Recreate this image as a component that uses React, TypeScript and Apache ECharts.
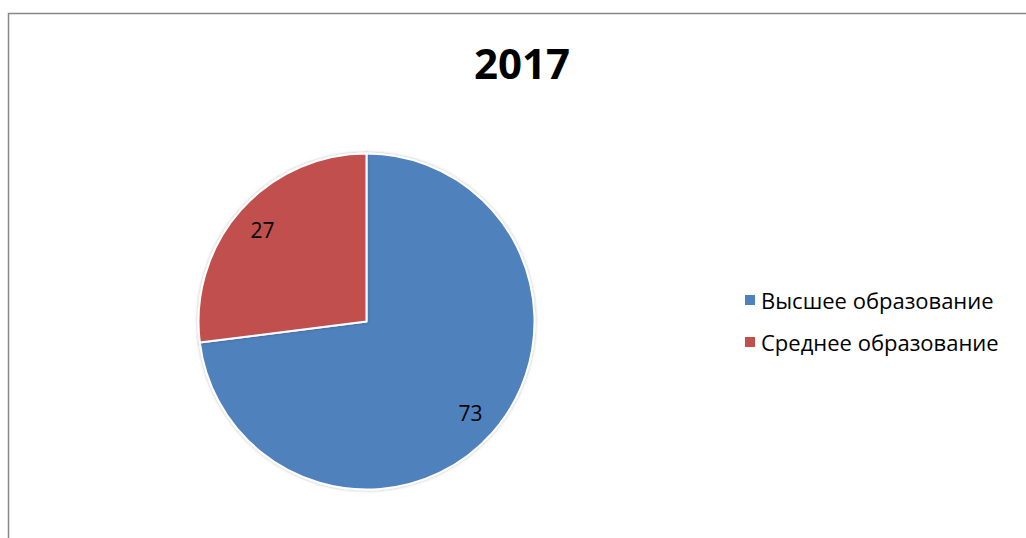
import React, { useEffect, useRef } from "react";
import * as echarts from "echarts";

const titleText = "2017";
const categories = ["Высшее образование", "Среднее образование"];
const values = [73, 27];
const colors = ["#4F81BD", "#C0504D"];

export default function App() {
  const ref = useRef<HTMLDivElement>(null);
  useEffect(() => {
    if (!ref.current) return;
    const chart = echarts.init(ref.current, null, { renderer: "svg" });
    const data = categories.map((name, i) => ({
      name,
      value: values[i],
      itemStyle: { color: colors[i] },
    }));
    chart.setOption({
      animation: false,
      backgroundColor: "#ffffff",
      title: {
        text: titleText,
        left: 517,
        top: 36,
        textAlign: "center",
        textStyle: {
          fontFamily: "Open Sans",
          fontWeight: "bold",
          fontSize: 42,
          color: "#000000",
        },
      },
      legend: {
        orient: "vertical",
        left: 738,
        top: 282,
        icon: "rect",
        itemWidth: 12,
        itemHeight: 12,
        itemGap: 16,
        data: categories,
        textStyle: {
          fontFamily: "Open Sans",
          fontSize: 22,
          lineHeight: 26,
          color: "#000000",
        },
        selectedMode: false,
      },
      graphic: [
        {
          type: "rect",
          shape: { x: 8.5, y: 13.5, width: 1100, height: 700 },
          style: { fill: "none", stroke: "#878787", lineWidth: 1.5 },
          silent: true,
        },
      ],
      series: [
        {
          type: "pie",
          center: [366.5, 321.5],
          radius: [0, 168],
          startAngle: 90,
          clockwise: true,
          data,
          label: { show: false },
          labelLine: { show: false },
          itemStyle: {
            borderColor: "#ffffff",
            borderWidth: 2,
            shadowColor: "rgba(0,0,0,0.3)",
            shadowBlur: 3,
          },
          emphasis: { disabled: true },
          silent: true,
        },
        {
          type: "pie",
          center: [366.5, 321.5],
          radius: [103, 168],
          startAngle: 90,
          clockwise: true,
          data: categories.map((name, i) => ({ name, value: values[i] })),
          itemStyle: { color: "rgba(0,0,0,0)" },
          label: {
            show: true,
            position: "inside",
            formatter: "{c}",
            fontFamily: "Open Sans",
            fontSize: 21,
            color: "#000000",
          },
          labelLine: { show: false },
          emphasis: { disabled: true },
          silent: true,
          legendHoverLink: false,
        },
      ],
    });
    return () => chart.dispose();
  }, []);
  return (
    <div
      ref={ref}
      style={{ position: "fixed", left: 0, top: 0, width: 1026, height: 538 }}
    />
  );
}
